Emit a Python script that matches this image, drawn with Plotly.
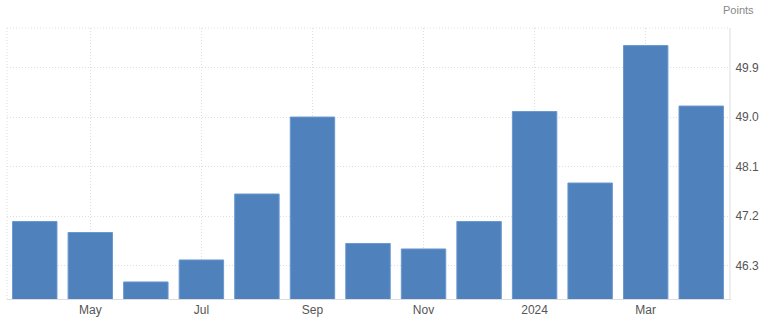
import plotly.graph_objects as go

months = ["2023-04", "2023-05", "2023-06", "2023-07", "2023-08", "2023-09", "2023-10",
          "2023-11", "2023-12", "2024-01", "2024-02", "2024-03", "2024-04"]
values = [47.1, 46.9, 46.0, 46.4, 47.6, 49.0, 46.7, 46.6, 47.1, 49.1, 47.8, 50.3, 49.2]
tick_months = ["2023-05", "2023-07", "2023-09", "2023-11", "2024-01", "2024-03"]
tick_labels = ["May", "Jul", "Sep", "Nov", "2024", "Mar"]
y_ticks = [46.3, 47.2, 48.1, 49.0, 49.9]

fig = go.Figure(go.Bar(
    x=months, y=values,
    marker=dict(color="#4f81bd", line=dict(color="#6a98cf", width=1)),
))

grid = "#dedede"
dots = "1px,2px"
fig.update_layout(
    width=768, height=326,
    margin=dict(l=7, r=39, t=28, b=27),
    paper_bgcolor="white", plot_bgcolor="white",
    bargap=0.2, showlegend=False,
    font=dict(family="Liberation Sans, Arial, sans-serif", size=12, color="#555555"),
    xaxis=dict(type="category", range=[-0.5, 12.5],
               tickvals=tick_months, ticktext=tick_labels,
               showgrid=True, gridcolor=grid, griddash=dots, gridwidth=1,
               showline=True, linecolor="#dddddd", linewidth=1,
               ticks="", tickfont=dict(size=12, color="#555555")),
    yaxis=dict(side="right", range=[45.69, 50.62],
               tickvals=y_ticks, ticktext=[f"{v:.1f}" for v in y_ticks],
               showgrid=True, gridcolor=grid, griddash=dots, gridwidth=1,
               showline=True, linecolor="#eeeeee", linewidth=2,
               zeroline=False, ticks="", ticklabelstandoff=2,
               tickfont=dict(size=12, color="#555555")),
    shapes=[
        dict(type="line", xref="paper", yref="paper", x0=0, x1=1, y0=1, y1=1,
             line=dict(color=grid, width=1, dash=dots)),
        dict(type="line", xref="paper", yref="paper", x0=0, x1=0, y0=0, y1=1,
             line=dict(color=grid, width=1, dash=dots)),
    ],
    annotations=[dict(text="Points", xref="paper", yref="paper", x=1.0, y=1.0,
                      xanchor="left", yanchor="bottom", xshift=-8, yshift=10,
                      showarrow=False, font=dict(size=11, color="#888888"))],
)

fig.write_html("out.html")
